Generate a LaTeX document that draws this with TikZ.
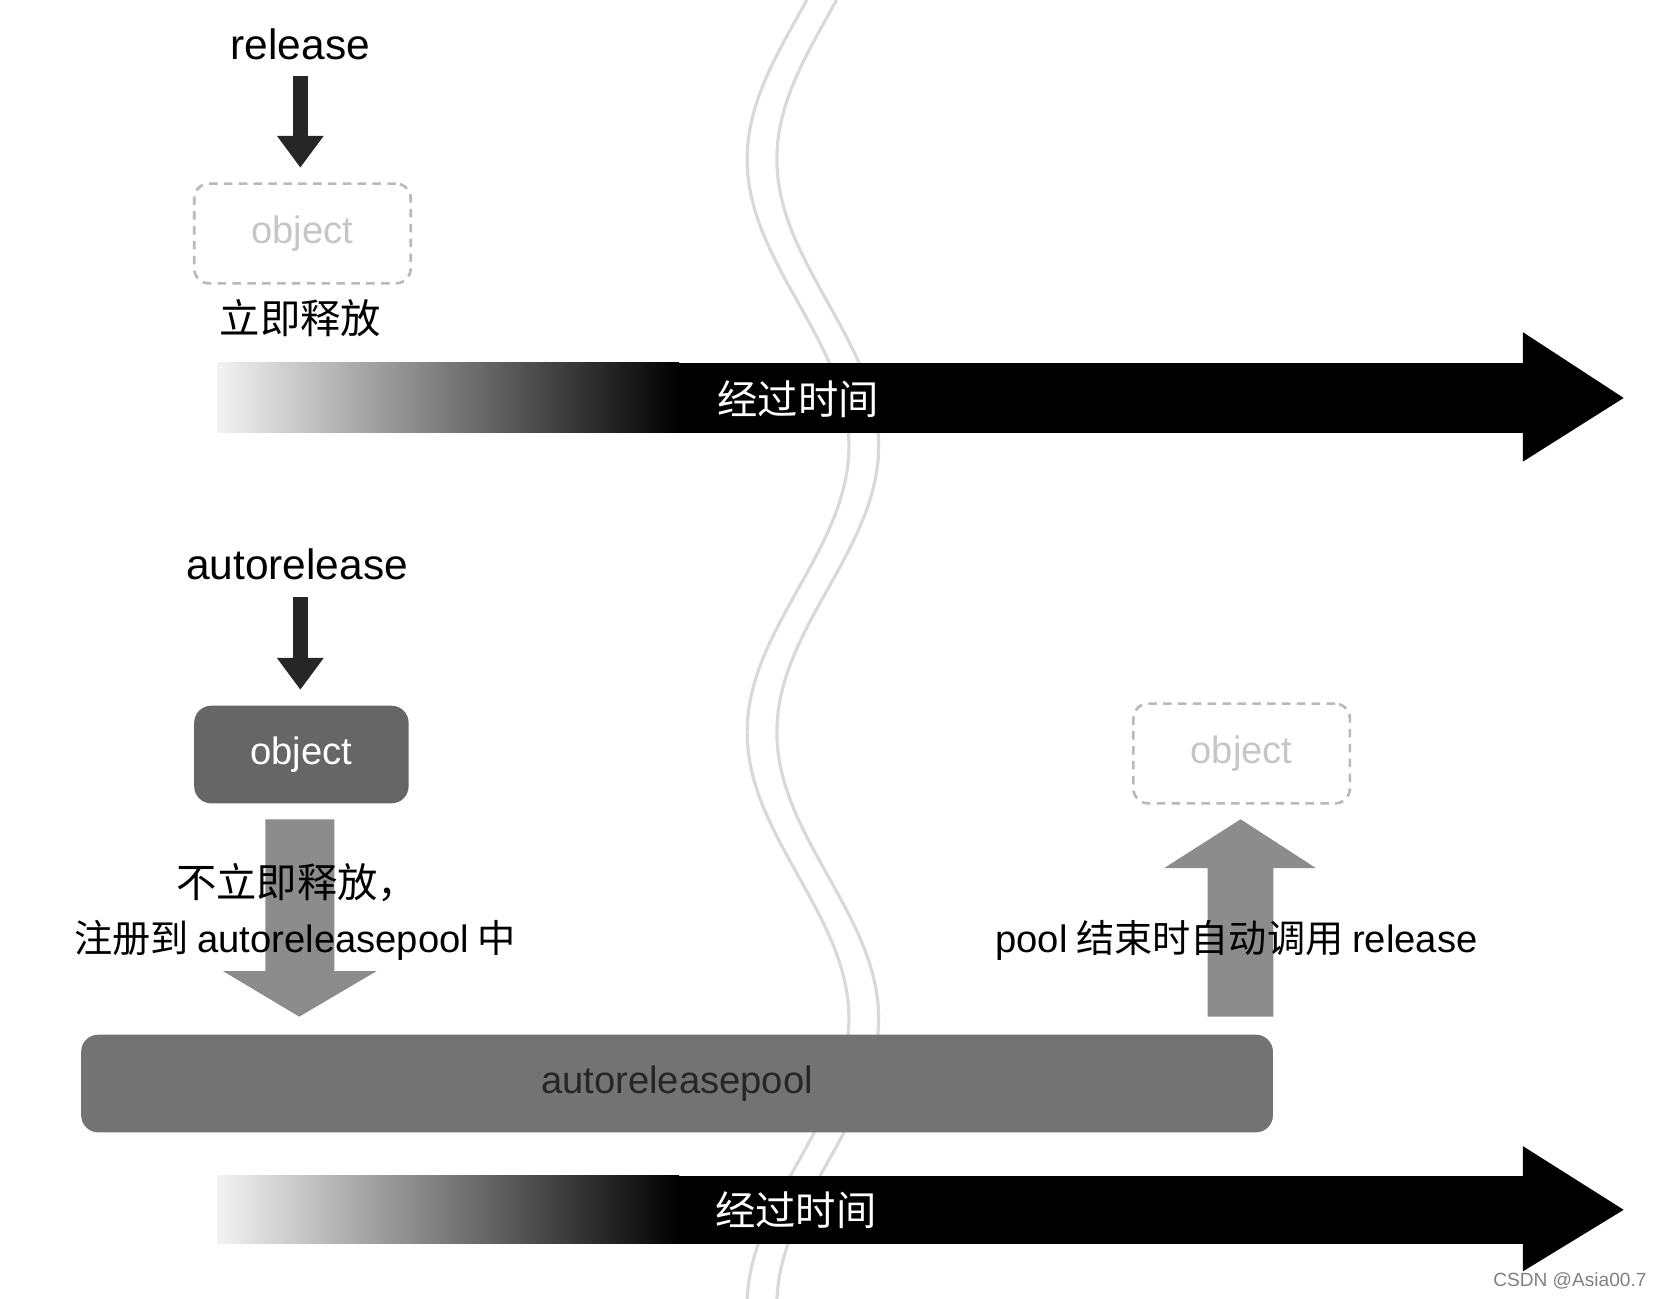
\documentclass[tikz,border=0pt]{standalone}
\usepackage{fontspec}
\usetikzlibrary{arrows.meta}
\setmainfont{Liberation Sans}
\newfontfamily\cjk{Noto Sans CJK SC}
\begin{document}
\begin{tikzpicture}[x=1pt,y=-1pt,
  lbl/.style={font=\fontsize{40}{44}\selectfont},
  cn/.style={font=\cjk\fontsize{38}{46}\selectfont},
  dashobj/.style={draw=gray!55,dashed,line width=2.5pt,rounded corners=14pt,dash pattern=on 8pt off 6pt,text=gray!45,font=\fontsize{36}{40}\selectfont},
  darrow/.style={line width=14pt,draw=black!85,-{Triangle[width=42pt,length=30pt]}},
  wave/.style={gray!30,line width=3pt}]
\useasboundingbox (0,0) rectangle (1568,1224);
% wavy lines
\draw[wave] plot[domain=0:1224,samples=120,variable=\t] ({752+48*cos((\t-420)/540*360)},\t);
\draw[wave] plot[domain=0:1224,samples=120,variable=\t] ({780+48*cos((\t-420)/540*360)},\t);
% top part
\node[lbl] (rel) at (283,42) {release};
\node[dashobj,minimum width=204pt,minimum height=94pt] (o1) at (285,220) {object};
\draw[darrow] (283,72) -- (283,158);
\node[cn] (t1) at (283,300) {立即释放};
% time arrow 1
\shade[left color=white!90!gray,right color=black] (205,342) rectangle (640,408);
\fill[black] (639,342) rectangle (1436,408);
\fill[black] (1435,313) -- (1530,375) -- (1435,435) -- cycle;
\node[cn,text=white] (time1) at (752,376) {经过时间};
% bottom part
\node[lbl] (arel) at (280,532) {autorelease};
\node[fill=black!60,rounded corners=16pt,minimum width=202pt,minimum height=92pt,text=white,font=\fontsize{36}{40}\selectfont] (o2) at (284,711) {object};
\draw[darrow] (283,563) -- (283,650);
\fill[black!50,opacity=0.9] (250,772) -- (315,772) -- (315,915) -- (355,915) -- (282,958) -- (210,915) -- (250,915) -- cycle;
\node[cn] (t2) at (280,832) {不立即释放，};
\node[font=\cjk\fontsize{36}{44}\selectfont] (t3) at (278,886) {注册到 {\fontspec{Liberation Sans}autoreleasepool} 中};
\node[dashobj,minimum width=204pt,minimum height=94pt] (o3) at (1170,710) {object};
\fill[black!50,opacity=0.9] (1138,958) -- (1200,958) -- (1200,818) -- (1240,818) -- (1169,772) -- (1097,818) -- (1138,818) -- cycle;
\node[font=\cjk\fontsize{36}{44}\selectfont] (t4) at (1165,886) {{\fontspec{Liberation Sans}pool} 结束时自动调用 {\fontspec{Liberation Sans}release}};
\node[fill=black!55,rounded corners=16pt,minimum width=1123pt,minimum height=92pt,text=black!85,font=\fontsize{36}{40}\selectfont] (pool) at (638,1021) {autoreleasepool};
% time arrow 2
\shade[left color=white!90!gray,right color=black] (205,1108) rectangle (640,1172);
\fill[black] (639,1108) rectangle (1436,1172);
\fill[black] (1435,1080) -- (1530,1140) -- (1435,1198) -- cycle;
\node[cn,text=white] (time2) at (750,1140) {经过时间};
\node[anchor=east,text=gray,font=\fontsize{18}{20}\selectfont] (csdn) at (1555,1207) {CSDN @Asia00.7};
\end{tikzpicture}
\end{document}
